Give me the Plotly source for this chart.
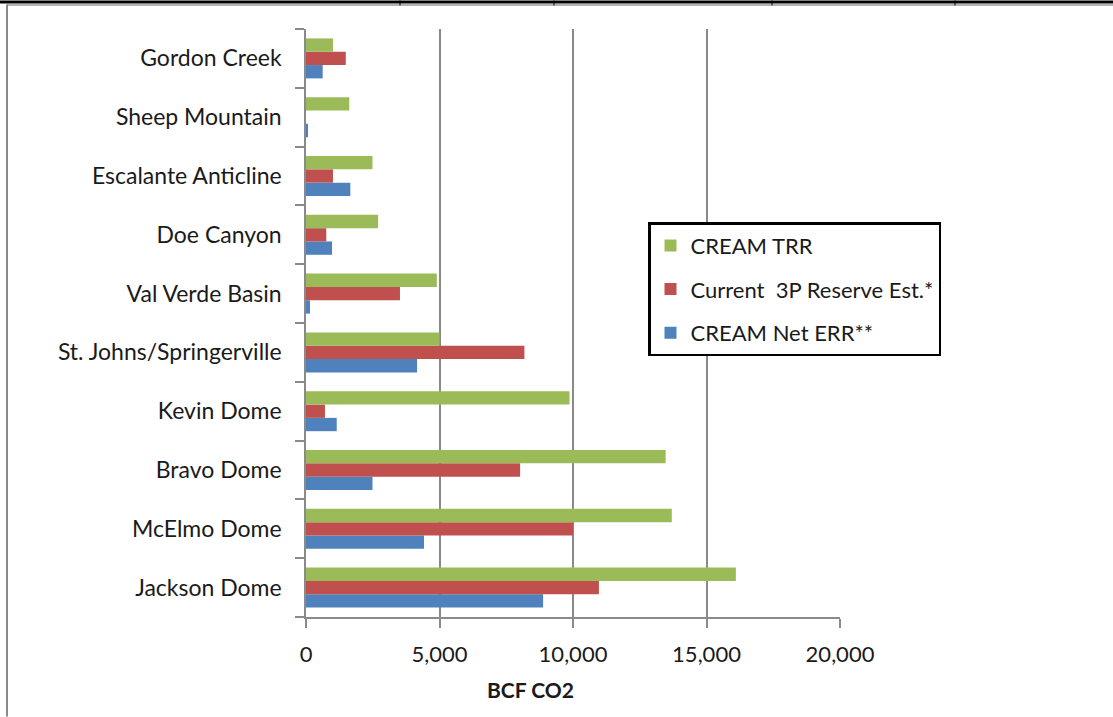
import plotly.graph_objects as go

# ---- data ----
categories = ["Jackson Dome", "McElmo Dome", "Bravo Dome", "Kevin Dome",
              "St. Johns/Springerville", "Val Verde Basin", "Doe Canyon",
              "Escalante Anticline", "Sheep Mountain", "Gordon Creek"]
cream_trr = [16100, 13700, 13470, 9870, 5000, 4900, 2700, 2490, 1620, 1010]
reserve_3p = [10970, 10000, 8020, 710, 8180, 3520, 760, 1010, 0, 1490]
cream_net_err = [8880, 4420, 2490, 1150, 4160, 150, 975, 1660, 60, 625]
series_names = ["CREAM Net ERR**", "Current  3P Reserve Est.*", "CREAM TRR"]
x_ticks = [0, 5000, 10000, 15000, 20000]
x_tick_text = ["0", "5,000", "10,000", "15,000", "20,000"]

W, H = 1113, 717
L, R, T, B = 306, 840, 28.6, 617.4
FONT = "Lato"

def px(x):
    return (x - L) / (R - L)

def py(y):
    return (B - y) / (B - T)

colors = ["#4F81BD", "#C0504D", "#9BBB59"]
values = [cream_net_err, reserve_3p, cream_trr]
ranks = [3, 2, 1]

fig = go.Figure()
for name, vals, c, rk in zip(series_names, values, colors, ranks):
    fig.add_trace(go.Bar(
        y=categories, x=vals, name=name, orientation="h",
        marker=dict(color=c, line=dict(width=0)),
        legendgroup=name, legendrank=rk,
    ))

fig.update_layout(
    width=W, height=H,
    margin=dict(l=L, r=W - R, t=T, b=H - B, pad=0),
    paper_bgcolor="white", plot_bgcolor="white",
    barmode="group", bargap=0.32, bargroupgap=0,
    font=dict(family=FONT, color="#000000"),
    showlegend=True,
    legend=dict(
        x=px(648), y=py(222), xanchor="left", yanchor="top",
        traceorder="grouped", tracegroupgap=12,
        bordercolor="#000000", borderwidth=2.5, bgcolor="white",
        font=dict(family=FONT, size=22, color="#1a1a1a"),
        itemwidth=30,
    ),
    xaxis=dict(
        range=[0, 20000], tickvals=x_ticks, ticktext=x_tick_text,
        showgrid=True, gridcolor="#8a8a8a", gridwidth=1.5,
        showline=True, linecolor="#8a8a8a", linewidth=1.5,
        ticks="outside", ticklen=9, tickcolor="#8a8a8a", tickwidth=1.5,
        tickfont=dict(family=FONT, size=22, color="#1a1a1a"),
        ticklabelstandoff=8,
        zeroline=False, fixedrange=True,
    ),
    yaxis=dict(
        categoryorder="array", categoryarray=categories,
        showline=True, linecolor="#8a8a8a", linewidth=1.5,
        ticks="outside", ticklen=9, tickcolor="#8a8a8a", tickwidth=1.5,
        tickson="boundaries", showgrid=False,
        tickfont=dict(family=FONT, size=23, color="#1a1a1a"),
        ticklabelstandoff=18,
        fixedrange=True,
    ),
    annotations=[dict(
        text="<b>BCF CO2</b>", x=px(530), y=py(690), xref="paper", yref="paper",
        xanchor="center", yanchor="middle", showarrow=False,
        font=dict(family=FONT, size=21, color="#1a1a1a"),
    )],
)

shapes = [
    dict(type="rect", xref="paper", yref="paper", x0=px(0), x1=px(W), y0=py(0), y1=py(3),
         fillcolor="#000000", line=dict(width=0)),
    dict(type="line", xref="paper", yref="paper", x0=px(7), x1=px(W), y0=py(4.5), y1=py(4.5),
         line=dict(color="#9a9a9a", width=1.5)),
    dict(type="line", xref="paper", yref="paper", x0=px(7), x1=px(7), y0=py(4), y1=py(H),
         line=dict(color="#8a8a8a", width=2)),
]
for tx in [400, 554, 772, 955]:
    shapes.append(dict(type="line", xref="paper", yref="paper", x0=px(tx), x1=px(tx),
                       y0=py(0), y1=py(5), line=dict(color="#000000", width=1)))
fig.update_layout(shapes=shapes)

fig.write_html("out.html")
